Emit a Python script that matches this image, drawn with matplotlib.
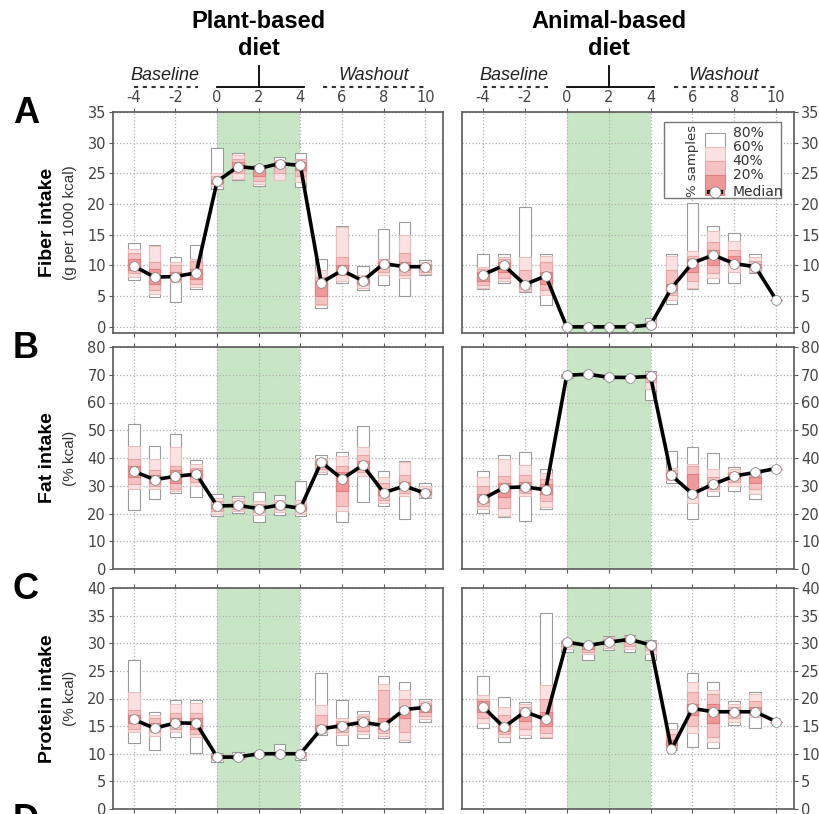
import matplotlib
matplotlib.use("Agg")
import matplotlib.pyplot as plt
import numpy as np
from matplotlib.patches import Rectangle

plt.rcParams["font.family"] = "DejaVu Sans"
plt.rcParams["axes.unicode_minus"] = False

days = np.arange(-4, 11)

# quantile tuples per day: (q10, q20, q30, q40, q60, q70, q80, q90)
fiber_plant_med = [9.9, 8.1, 8.2, 8.8, 23.7, 26.1, 25.8, 26.6, 26.3, 7.2, 9.2, 7.5, 10.3, 9.8, 9.8]
fiber_plant_q = [
    (7.7, 8.1, 8.7, 9.2, 11.0, 12.0, 12.7, 13.7),
    (4.9, 5.3, 6.0, 7.0, 9.5, 10.5, 13.2, 13.4),
    (4.1, 7.3, 7.5, 7.8, 9.0, 10.0, 10.5, 11.4),
    (6.2, 6.5, 7.0, 7.8, 9.5, 10.8, 11.0, 13.3),
    (22.5, 23.0, 23.3, 23.5, 24.0, 24.5, 25.0, 29.1),
    (23.9, 24.1, 25.0, 25.8, 26.8, 27.4, 28.0, 28.4),
    (22.9, 23.2, 23.8, 24.6, 25.9, 26.1, 26.2, 26.3),
    (23.9, 24.0, 25.0, 26.0, 26.8, 27.0, 27.2, 27.7),
    (22.8, 23.6, 24.5, 25.5, 26.8, 27.3, 27.4, 28.3),
    (3.1, 3.5, 3.8, 5.0, 7.5, 8.1, 9.2, 11.0),
    (7.1, 7.5, 8.5, 9.0, 10.0, 11.4, 16.3, 16.4),
    (6.0, 6.3, 6.8, 7.2, 7.8, 8.0, 8.5, 9.9),
    (6.8, 8.4, 9.0, 9.8, 10.6, 11.0, 11.1, 16.0),
    (5.0, 7.9, 8.5, 9.3, 10.5, 12.0, 14.9, 17.1),
    (8.4, 8.6, 9.0, 9.5, 10.0, 10.3, 10.6, 10.9),
]

fiber_animal_med = [8.5, 10.0, 6.9, 8.3, 0.0, 0.0, 0.0, 0.0, 0.3, 6.3, 10.4, 11.7, 10.3, 9.8, 4.4]
fiber_animal_q = [
    (6.1, 6.3, 6.8, 7.5, 9.0, 9.5, 9.8, 11.9),
    (7.1, 7.5, 8.0, 9.0, 10.5, 11.0, 11.4, 11.8),
    (5.6, 5.8, 6.2, 6.6, 7.4, 9.3, 11.4, 19.6),
    (3.6, 5.2, 6.0, 7.0, 9.0, 10.5, 11.5, 11.9),
    (0.0, 0.0, 0.0, 0.0, 0.0, 0.0, 0.1, 0.1),
    (0.0, 0.0, 0.0, 0.0, 0.0, 0.0, 0.1, 0.1),
    (0.0, 0.0, 0.0, 0.0, 0.0, 0.0, 0.1, 0.1),
    (0.0, 0.0, 0.0, 0.0, 0.0, 0.0, 0.1, 0.1),
    (0.0, 0.0, 0.1, 0.2, 0.5, 0.8, 1.0, 1.4),
    (3.7, 4.4, 5.2, 6.0, 7.0, 9.3, 11.5, 11.9),
    (6.1, 6.4, 7.4, 9.0, 11.0, 11.6, 12.3, 20.1),
    (7.1, 7.9, 8.7, 10.0, 12.6, 13.9, 15.6, 16.4),
    (7.1, 9.0, 10.0, 10.2, 11.5, 12.5, 14.0, 15.3),
    (8.7, 9.0, 9.3, 9.6, 10.2, 10.8, 11.3, 11.8),
    (4.4, 4.4, 4.4, 4.4, 4.4, 4.4, 4.4, 4.4),
]

fat_plant_med = [35.2, 32.2, 33.4, 34.2, 22.7, 22.9, 21.8, 23.0, 21.9, 38.5, 32.5, 37.4, 27.5, 29.9, 27.3]
fat_plant_q = [
    (21.2, 28.7, 30.5, 33.0, 37.0, 39.6, 44.4, 52.2),
    (25.3, 29.0, 30.0, 31.0, 34.0, 35.5, 39.6, 44.4),
    (27.3, 28.1, 29.0, 31.0, 35.5, 37.0, 43.8, 48.6),
    (26.1, 29.9, 31.5, 33.0, 35.5, 36.5, 37.8, 39.3),
    (19.1, 20.0, 21.0, 22.0, 23.5, 24.5, 25.5, 26.9),
    (20.3, 21.0, 21.5, 22.5, 23.5, 24.5, 25.5, 26.3),
    (17.1, 19.5, 20.5, 21.3, 22.5, 23.5, 24.5, 27.7),
    (19.4, 20.5, 21.5, 22.5, 23.5, 24.3, 25.0, 26.5),
    (19.1, 20.0, 21.0, 21.5, 22.5, 23.5, 25.0, 31.7),
    (34.4, 35.0, 36.0, 37.5, 38.8, 39.5, 40.0, 41.0),
    (16.9, 20.9, 22.7, 28.0, 35.0, 37.2, 40.8, 42.3),
    (24.1, 33.5, 35.0, 36.5, 39.0, 41.0, 43.8, 51.6),
    (22.7, 23.9, 25.0, 26.5, 29.0, 31.0, 33.3, 35.3),
    (18.1, 26.3, 27.5, 28.7, 31.5, 34.0, 38.4, 39.0),
    (25.7, 26.0, 26.5, 27.0, 28.0, 29.0, 30.0, 31.1),
]

fat_animal_med = [25.3, 29.3, 29.6, 28.5, 69.8, 70.2, 69.1, 69.0, 69.4, 33.7, 27.1, 30.6, 33.5, 34.8, 36.2]
fat_animal_q = [
    (20.3, 21.5, 22.7, 24.0, 27.0, 30.0, 33.3, 35.3),
    (18.8, 19.1, 22.0, 26.0, 31.0, 33.5, 39.6, 41.0),
    (17.2, 26.3, 27.5, 28.5, 31.5, 34.0, 37.4, 42.3),
    (21.5, 22.5, 24.5, 27.0, 30.5, 32.5, 34.5, 35.9),
    (69.0, 69.3, 69.5, 69.7, 70.0, 70.1, 70.2, 70.4),
    (69.6, 69.8, 69.9, 70.1, 70.3, 70.4, 70.5, 70.6),
    (68.5, 68.7, 68.9, 69.0, 69.2, 69.3, 69.5, 69.7),
    (68.4, 68.6, 68.8, 68.9, 69.1, 69.2, 69.4, 69.6),
    (60.9, 65.0, 67.5, 68.8, 69.8, 70.3, 70.8, 71.2),
    (31.1, 32.0, 32.5, 33.2, 34.5, 35.5, 36.5, 42.6),
    (17.9, 23.9, 26.0, 28.1, 34.1, 37.0, 37.8, 43.8),
    (26.3, 28.0, 29.0, 30.0, 31.5, 33.0, 35.9, 41.7),
    (28.1, 30.0, 31.5, 32.8, 34.2, 35.0, 36.0, 36.9),
    (25.3, 27.0, 29.0, 31.0, 33.0, 33.5, 34.0, 34.5),
    (36.2, 36.2, 36.2, 36.2, 36.2, 36.2, 36.2, 36.2),
]

protein_plant_med = [16.2, 14.6, 15.6, 15.5, 9.4, 9.4, 10.0, 10.0, 10.0, 14.5, 15.1, 15.7, 15.1, 18.0, 18.4]
protein_plant_q = [
    (11.9, 14.0, 14.5, 15.5, 17.0, 17.9, 21.2, 26.9),
    (10.6, 13.2, 14.0, 14.3, 15.5, 16.5, 17.0, 17.6),
    (13.1, 14.0, 14.5, 15.2, 16.5, 17.3, 19.0, 19.7),
    (10.2, 13.1, 13.5, 14.5, 16.5, 17.3, 19.1, 19.7),
    (8.5, 8.8, 9.0, 9.3, 9.7, 9.8, 10.0, 10.2),
    (9.1, 9.2, 9.3, 9.4, 9.6, 9.8, 10.0, 10.4),
    (9.6, 9.7, 9.8, 9.9, 10.1, 10.2, 10.3, 10.3),
    (9.6, 9.8, 9.9, 10.0, 10.2, 10.3, 10.5, 11.7),
    (8.8, 9.3, 9.6, 9.9, 10.1, 10.2, 10.2, 10.3),
    (13.4, 13.7, 14.0, 14.3, 15.2, 17.0, 18.8, 24.7),
    (11.6, 13.4, 14.0, 14.6, 15.6, 16.0, 16.4, 19.8),
    (12.9, 13.5, 14.2, 15.0, 16.3, 16.8, 17.2, 17.8),
    (12.8, 13.2, 13.7, 14.5, 16.5, 21.5, 22.7, 24.0),
    (12.2, 12.5, 14.0, 16.5, 18.5, 20.0, 21.5, 23.0),
    (15.8, 16.2, 16.8, 17.5, 18.8, 19.2, 19.6, 20.0),
]

protein_animal_med = [18.5, 14.8, 17.6, 16.2, 30.2, 29.6, 30.2, 30.7, 29.7, 10.8, 18.2, 17.6, 17.6, 17.6, 15.8]
protein_animal_q = [
    (14.6, 15.5, 16.5, 17.5, 19.5, 20.0, 20.6, 24.0),
    (12.2, 13.1, 13.6, 14.2, 15.5, 17.0, 18.5, 20.2),
    (12.9, 13.4, 14.5, 16.0, 18.0, 18.5, 19.0, 19.4),
    (12.8, 13.1, 13.7, 15.0, 17.5, 20.0, 22.4, 35.5),
    (28.5, 29.0, 29.5, 30.0, 30.3, 30.4, 30.5, 30.6),
    (27.0, 28.0, 28.5, 29.0, 29.7, 29.7, 29.7, 29.8),
    (28.7, 29.2, 29.6, 30.0, 30.5, 30.8, 31.1, 31.3),
    (28.5, 29.0, 29.5, 30.3, 31.0, 31.2, 31.4, 31.5),
    (27.0, 28.0, 28.8, 29.3, 30.0, 30.2, 30.4, 30.6),
    (10.6, 10.8, 11.0, 11.5, 12.5, 13.5, 14.5, 15.5),
    (11.3, 13.7, 15.0, 17.0, 19.0, 21.2, 23.0, 24.6),
    (11.0, 12.2, 13.1, 15.5, 19.0, 20.9, 21.5, 23.0),
    (15.2, 15.8, 16.5, 17.2, 18.0, 18.5, 19.0, 19.6),
    (14.6, 16.7, 17.0, 17.3, 18.5, 19.5, 20.9, 21.2),
    (15.8, 15.8, 15.8, 15.8, 15.8, 15.8, 15.8, 15.8),
]

row_labels = ["A", "B", "C"]
row_titles = ["Fiber intake", "Fat intake", "Protein intake"]
row_units = ["(g per 1000 kcal)", "(% kcal)", "(% kcal)"]
row_ylims = [(-1, 35), (0, 80), (0, 40)]
row_yticks = [np.arange(0, 36, 5), np.arange(0, 81, 10), np.arange(0, 41, 5)]
diet_titles = ["Plant-based", "Animal-based"]
legend_labels = ["80%", "60%", "40%", "20%"]

panels = [
    [(fiber_plant_med, fiber_plant_q), (fiber_animal_med, fiber_animal_q)],
    [(fat_plant_med, fat_plant_q), (fat_animal_med, fat_animal_q)],
    [(protein_plant_med, protein_plant_q), (protein_animal_med, protein_animal_q)],
]

band_colors = ["white", "#fbe1e1", "#f7c2c2", "#f09898"]
band_edges = ["#9a9a9a", "#e9c0c0", "#e6a6a6", "#e08080"]
green = "#c8e6c5"
spine_color = "#5a5a5a"
tick_color = "#444444"
header_font = "Liberation Sans"

W, H = 819, 814
fig = plt.figure(figsize=(W / 100, H / 100), dpi=100)

col_left = [113, 462]
col_width = [330, 332]
row_top = [112, 347, 588]
row_height = [221, 222, 221]

axes = []
for r in range(3):
    row_axes = []
    for c in range(2):
        ax = fig.add_axes([
            col_left[c] / W,
            1 - (row_top[r] + row_height[r]) / H,
            col_width[c] / W,
            row_height[r] / H,
        ])
        row_axes.append(ax)
    axes.append(row_axes)

for r in range(3):
    for c in range(2):
        ax = axes[r][c]
        med, q = panels[r][c]
        q = np.array(q)

        ax.axvspan(0, 4, color=green, lw=0, zorder=0)
        ax.set_axisbelow(True)
        ax.grid(True, ls=":", color="#b0b0b0", lw=0.9)

        for k in range(4):
            lo = q[:, k]
            hi = q[:, 7 - k]
            ax.bar(days, hi - lo, bottom=lo, width=0.56,
                   color=band_colors[k], edgecolor=band_edges[k],
                   lw=0.8, zorder=2)

        ax.plot(days, med, color="black", lw=2.6, zorder=3,
                marker="o", markersize=7, markerfacecolor="white",
                markeredgecolor="#888888", markeredgewidth=0.6)

        ax.set_xlim(-5, 10.85)
        ax.set_ylim(*row_ylims[r])
        ax.set_xticks(np.arange(-4, 11, 2))
        ax.set_yticks(row_yticks[r])

        for s in ax.spines.values():
            s.set_color(spine_color)
            s.set_linewidth(1.2)

        ax.tick_params(axis="x", which="both", direction="out", length=3,
                       top=True, bottom=True, labelbottom=False,
                       labeltop=(r == 0), labelsize=10.5,
                       colors=spine_color, labelcolor=tick_color, pad=2)
        ax.tick_params(axis="y", direction="out", length=3,
                       left=(c == 0), right=(c == 1),
                       labelleft=(c == 0), labelright=(c == 1),
                       labelsize=10.5, colors=spine_color,
                       labelcolor=tick_color, pad=2)

# headers above the top row
for c in range(2):
    ax = axes[0][c]
    tr = ax.get_xaxis_transform()
    ax.text(2, 1.38, diet_titles[c], transform=tr, ha="center",
            va="baseline", fontsize=17, fontweight="bold",
            family=header_font)
    ax.text(2, 1.258, "diet", transform=tr, ha="center", va="baseline",
            fontsize=17, fontweight="bold", family=header_font)
    ax.plot([0, 4.15], [1.113, 1.113], transform=tr, color="black",
            lw=1.3, clip_on=False)
    ax.plot([2, 2], [1.113, 1.21], transform=tr, color="black",
            lw=1.3, clip_on=False)
    ax.plot([-4, -0.9], [1.113, 1.113], transform=tr, color="#333333",
            lw=1.5, ls=(0, (2, 2.2)), clip_on=False)
    ax.plot([5.1, 10.0], [1.113, 1.113], transform=tr, color="#333333",
            lw=1.5, ls=(0, (2, 2.2)), clip_on=False)
    ax.text(-2.5, 1.145, "Baseline", transform=tr, ha="center",
            va="baseline", fontsize=13, style="italic", family=header_font,
            color="#222222")
    ax.text(7.5, 1.145, "Washout", transform=tr, ha="center",
            va="baseline", fontsize=13, style="italic", family=header_font,
            color="#222222")

# row labels
for r in range(3):
    yc = 1 - (row_top[r] + row_height[r] / 2) / H
    fig.text(48 / W, yc, row_titles[r], rotation=90, ha="center",
             va="center", fontsize=14, fontweight="bold", family=header_font)
    fig.text(70 / W, yc, row_units[r], rotation=90, ha="center",
             va="center", fontsize=11, family=header_font, color="#333333")
    fig.text(13 / W, 1 - (row_top[r] - 16) / H, row_labels[r],
             ha="left", va="top", fontsize=26, fontweight="bold",
             family=header_font)
fig.text(13 / W, 1 - 803 / H, "D", ha="left", va="top", fontsize=26,
         fontweight="bold", family=header_font)

# legend in the top-right panel
lax = axes[0][1]
tA = lax.transAxes
lax.add_patch(Rectangle((0.608, 0.611), 0.353, 0.344, transform=tA,
                        facecolor="white", edgecolor="#777777", lw=1.0,
                        zorder=5))
stack_x, stack_w = 0.732, 0.06
bounds = [0.905, 0.842, 0.779, 0.716, 0.653]
for k in range(4):
    lax.add_patch(Rectangle((stack_x, bounds[k + 1]), stack_w,
                            bounds[k] - bounds[k + 1], transform=tA,
                            facecolor=band_colors[k], edgecolor=band_edges[k],
                            lw=0.8, zorder=6))
    lax.text(0.815, bounds[k], legend_labels[k], transform=tA, ha="left",
             va="center", fontsize=10, color="#333333", zorder=7)
lax.add_patch(Rectangle((stack_x, 0.62), stack_w, 0.033, transform=tA,
                        facecolor="#ec8080", edgecolor="none", zorder=6))
lax.plot([stack_x + 0.005, stack_x + stack_w - 0.005], [0.64, 0.64],
         transform=tA, color="black", lw=2.8, zorder=7,
         solid_capstyle="butt")
lax.plot([stack_x + stack_w / 2], [0.64], transform=tA, marker="o",
         markersize=8, markerfacecolor="white", markeredgecolor="#888888",
         markeredgewidth=0.6, zorder=8)
lax.text(0.815, 0.64, "Median", transform=tA, ha="left", va="center",
         fontsize=10, color="#333333", zorder=7)
lax.text(0.693, 0.78, "% samples", transform=tA, ha="center", va="center",
         rotation=90, fontsize=9.5, color="#333333", zorder=7)

fig.savefig("out.png", dpi=100)
